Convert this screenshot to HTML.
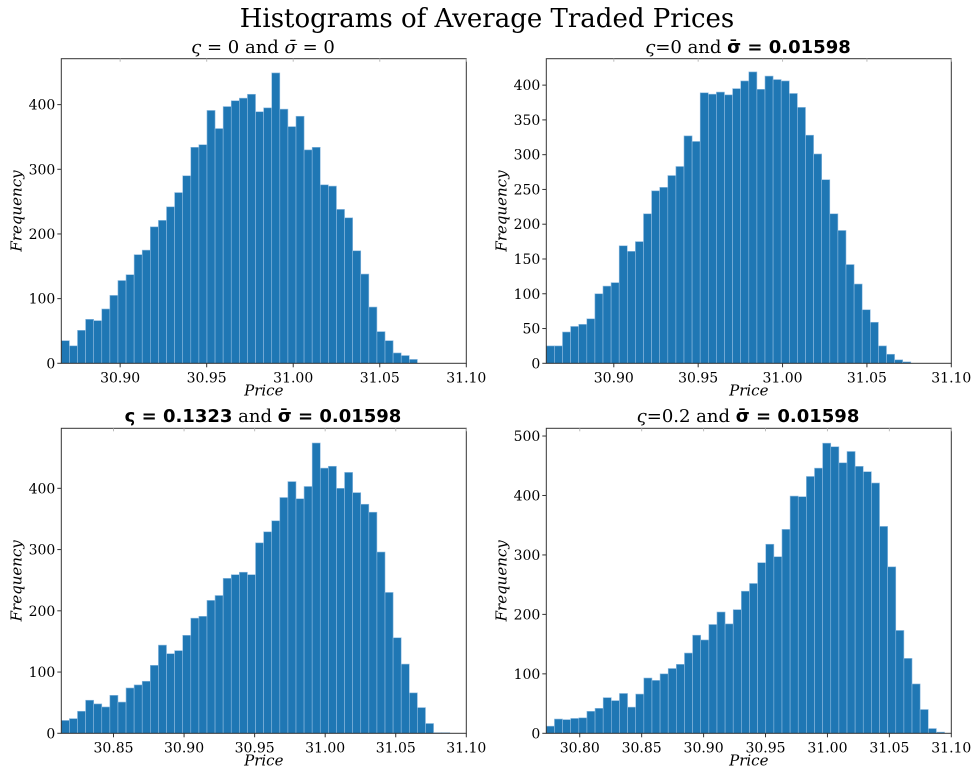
<!DOCTYPE html>
<html><head><meta charset="utf-8"><style>
body{margin:0;background:#fff;}
svg text{font-family:"DejaVu Serif","Liberation Serif",serif;}
.b{font-family:"DejaVu Sans","Liberation Sans",sans-serif;font-weight:bold;}
</style></head><body>
<svg id="c" width="975" height="771" xmlns="http://www.w3.org/2000/svg">
<text x="487" y="27" font-size="26" text-anchor="middle">Histograms of Average Traded Prices</text>
<text x="263" y="53" font-size="18" text-anchor="middle"><tspan font-style="italic">ς</tspan> = 0 and <tspan font-style="italic">σ̄</tspan> = 0</text>
<text x="748" y="53" font-size="18" text-anchor="middle"><tspan font-style="italic">ς</tspan>=0 and <tspan class="b">σ̄ = 0.01598</tspan></text>
<text x="263" y="422" font-size="18" text-anchor="middle"><tspan class="b">ς = 0.1323</tspan> and <tspan class="b">σ̄ = 0.01598</tspan></text>
<text x="748" y="422" font-size="18" text-anchor="middle"><tspan font-style="italic">ς</tspan>=0.2 and <tspan class="b">σ̄ = 0.01598</tspan></text>
</svg>
<script>
const counts1=[35,27,51,68,66,84,105,128,137,168,175,211,221,242,264,290,334,338,391,363,397,406,410,416,389,395,449,393,366,382,330,334,276,274,238,225,174,138,87,49,35,16,12,6];
const counts2=[25,25,45,53,56,64,100,111,116,169,161,175,215,248,253,270,283,327,319,389,387,390,386,395,406,419,394,413,408,406,388,368,328,301,264,215,191,142,114,77,59,25,13,5,2];
const counts3=[21,24,36,54,48,43,62,51,74,79,85,111,144,130,135,160,188,191,217,225,253,259,263,259,311,329,347,385,411,383,403,474,433,436,400,426,393,374,361,296,230,156,113,66,42,16,1,1];
const counts4=[12,24,23,25,26,37,42,60,55,67,44,66,93,89,100,109,116,135,165,157,183,204,184,208,239,252,287,318,297,343,399,398,432,446,488,482,455,474,449,440,421,348,280,173,126,83,40,8,2];
const binStarts=[30.866,30.860,30.813,30.773];
const binWidths=[0.004676,0.0048,0.005735,0.006562];
const xTicks1=[30.90,30.95,31.00,31.05,31.10];
const xTicks2=[30.90,30.95,31.00,31.05,31.10];
const xTicks3=[30.85,30.90,30.95,31.00,31.05,31.10];
const xTicks4=[30.80,30.85,30.90,30.95,31.00,31.05,31.10];
const yTicks1=[0,100,200,300,400];
const yTicks2=[0,50,100,150,200,250,300,350,400];
const yTicks3=[0,100,200,300,400];
const yTicks4=[0,100,200,300,400,500];
const yMax=[471,438,498,513];
const NS="http://www.w3.org/2000/svg";
const svg=document.getElementById('c');
function mk(tag,attrs,parent){const e=document.createElementNS(NS,tag);for(const k in attrs)e.setAttribute(k,attrs[k]);(parent||svg).appendChild(e);return e;}
const boxes=[[61.3,58.7,466.3,363.3],[546.3,58.7,951.3,363.3],[61.3,428.3,466.3,733.3],[546.3,428.3,951.3,733.3]];
const allCounts=[counts1,counts2,counts3,counts4];
const allX=[xTicks1,xTicks2,xTicks3,xTicks4];
const allY=[yTicks1,yTicks2,yTicks3,yTicks4];
for(let p=0;p<4;p++){
  const [l,t,r,b]=boxes[p];
  const xmin=binStarts[p], xmax=31.10;
  const xs=v=>l+(v-xmin)/(xmax-xmin)*(r-l);
  const ys=v=>b-v/yMax[p]*(b-t);
  const g=mk('g',{});
  
  
  const counts=allCounts[p];
  counts.forEach((c,i)=>{
    const x0=xs(binStarts[p]+i*binWidths[p]), x1=xs(binStarts[p]+(i+1)*binWidths[p]);
    const rc=mk('rect',{x:x0,y:ys(c),width:Math.max(0,x1-x0),height:b-ys(c),fill:'#1f77b4',stroke:'#8fbbe0','stroke-width':0.6},g);
    
    
  });
  const fr=mk('rect',{x:l,y:t,width:r-l,height:b-t,fill:'none',stroke:'#333','stroke-width':1},g);
  
  
  allX[p].forEach(v=>{
    const x=xs(v);
    mk('line',{x1:x,x2:x,y1:b,y2:b+4,stroke:'#333'},g);
    mk('line',{x1:x,x2:x,y1:t,y2:t+3,stroke:'#bbb'},g);
    const tx=mk('text',{x:x,y:b+19,'font-size':14,'text-anchor':'middle'},g);
    tx.textContent=v.toFixed(2);
    
    
  });
  allY[p].forEach(v=>{
    const y=ys(v);
    mk('line',{x1:l-4,x2:l,y1:y,y2:y,stroke:'#333'},g);
    const tx=mk('text',{x:l-6,y:y+5,'font-size':14,'text-anchor':'end'},g);
    tx.textContent=v;
    
    
  });
  const xl=mk('text',{x:(l+r)/2,y:b+32,'font-size':15,'font-style':'italic','text-anchor':'middle'},g);
  xl.textContent='Price';
  
  
  const cy=(t+b)/2, cx=l-40;
  const yl=mk('text',{x:cx,y:cy,'font-size':15,'font-style':'italic','text-anchor':'middle',transform:'rotate(-90 '+cx+' '+cy+')'},g);
  yl.textContent='Frequency';
  
  
}
</script>
</body></html>
